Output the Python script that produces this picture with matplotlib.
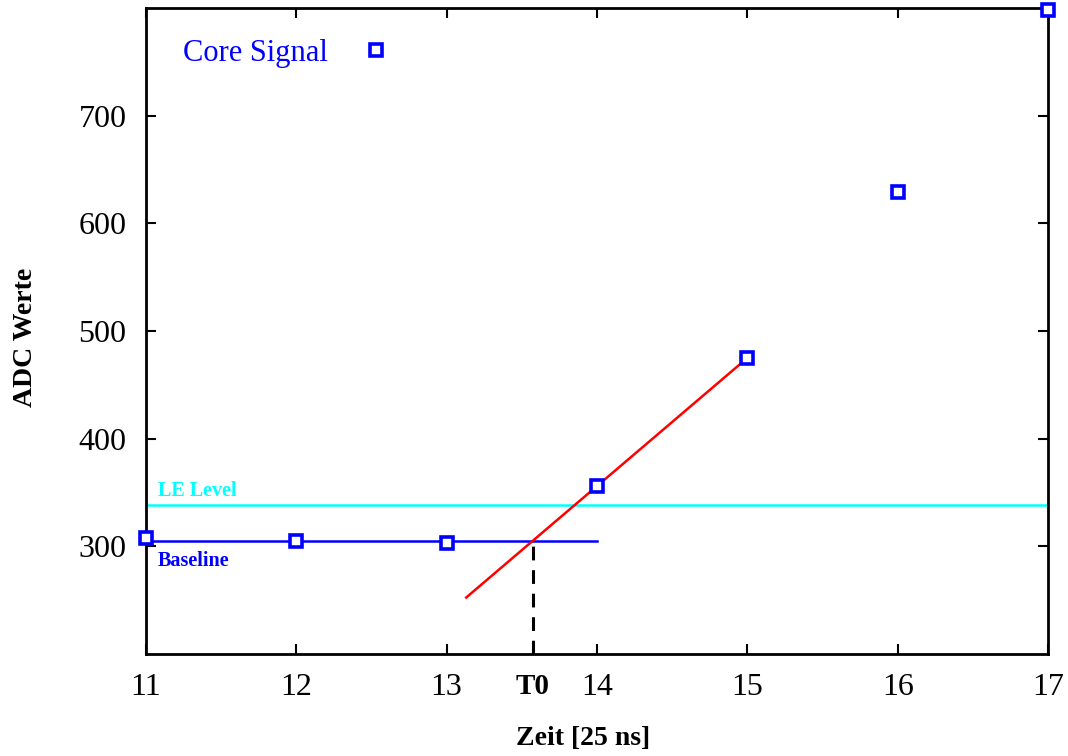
import matplotlib
matplotlib.use("Agg")
import matplotlib.pyplot as plt
import numpy as np

plt.rcParams['font.family'] = ['Liberation Serif', 'DejaVu Serif']

# ADC samples of the core signal
zeit = [11, 12, 13, 14, 15, 16, 17]
adc = [308, 305, 303, 356, 475, 629, 798]

le_level = 338
fit_start = 13.13

# baseline = mean of the first three samples, leading edge = line through samples 14 and 15
baseline = np.mean(adc[:3])
slope = (adc[4] - adc[3]) / (zeit[4] - zeit[3])
t0 = zeit[3] - (adc[3] - baseline) / slope

fig = plt.figure(figsize=(10.68, 7.56), dpi=100)
ax = fig.add_axes([0.1367, 0.1349, 0.8446, 0.8545])

ax.plot(zeit, adc, linestyle='none', marker='s', markersize=8.5, markerfacecolor='white',
        markeredgecolor='#0000ff', markeredgewidth=2.6, label='Core Signal', zorder=5, clip_on=False)

ax.axhline(le_level, color='#00ffff', lw=1.8)
ax.plot([zeit[0], zeit[3]], [baseline, baseline], color='#0000ff', lw=1.8)
fx = np.array([fit_start, zeit[4]])
ax.plot(fx, adc[3] + slope * (fx - zeit[3]), color='#ff0000', lw=1.8)
ax.plot([t0, t0], [200, baseline], color='black', lw=2.2, linestyle=(0, (4.5, 3.2)))

ax.text(11.08, 351, 'LE Level', color='#00ffff', fontsize=14.5, fontweight='bold', va='center')
ax.text(11.08, 286, 'Baseline', color='#0000ff', fontsize=14.5, fontweight='bold', va='center')

ax.set_xlim(11, 17)
ax.set_ylim(200, 800)
ax.set_xticks(zeit)
ax.set_yticks([300, 400, 500, 600, 700])
ax.set_xticks([t0], minor=True)
ax.set_xticklabels(['T0'], minor=True, fontweight='bold')
ax.tick_params(which='major', direction='in', length=7, width=1.5, labelsize=23,
               top=True, right=True, pad=14)
ax.tick_params(axis='y', pad=14)
ax.tick_params(which='minor', direction='in', length=3.5, width=1.5, labelsize=21, pad=14)
for s in ax.spines.values():
    s.set_linewidth(2)

ax.set_xlabel('Zeit [25 ns]', fontsize=20, fontweight='bold')
ax.set_ylabel('ADC Werte', fontsize=20, fontweight='bold')
ax.xaxis.set_label_coords(0.485, -0.112)
ax.yaxis.set_label_coords(-0.12, 0.49)

leg = ax.legend(loc='upper left', bbox_to_anchor=(0.01, 0.995), frameon=False, markerfirst=False,
                fontsize=22, handletextpad=1.0, handlelength=1.2)
for t in leg.get_texts():
    t.set_color('#0000ff')

fig.savefig('out.png', dpi=100)
